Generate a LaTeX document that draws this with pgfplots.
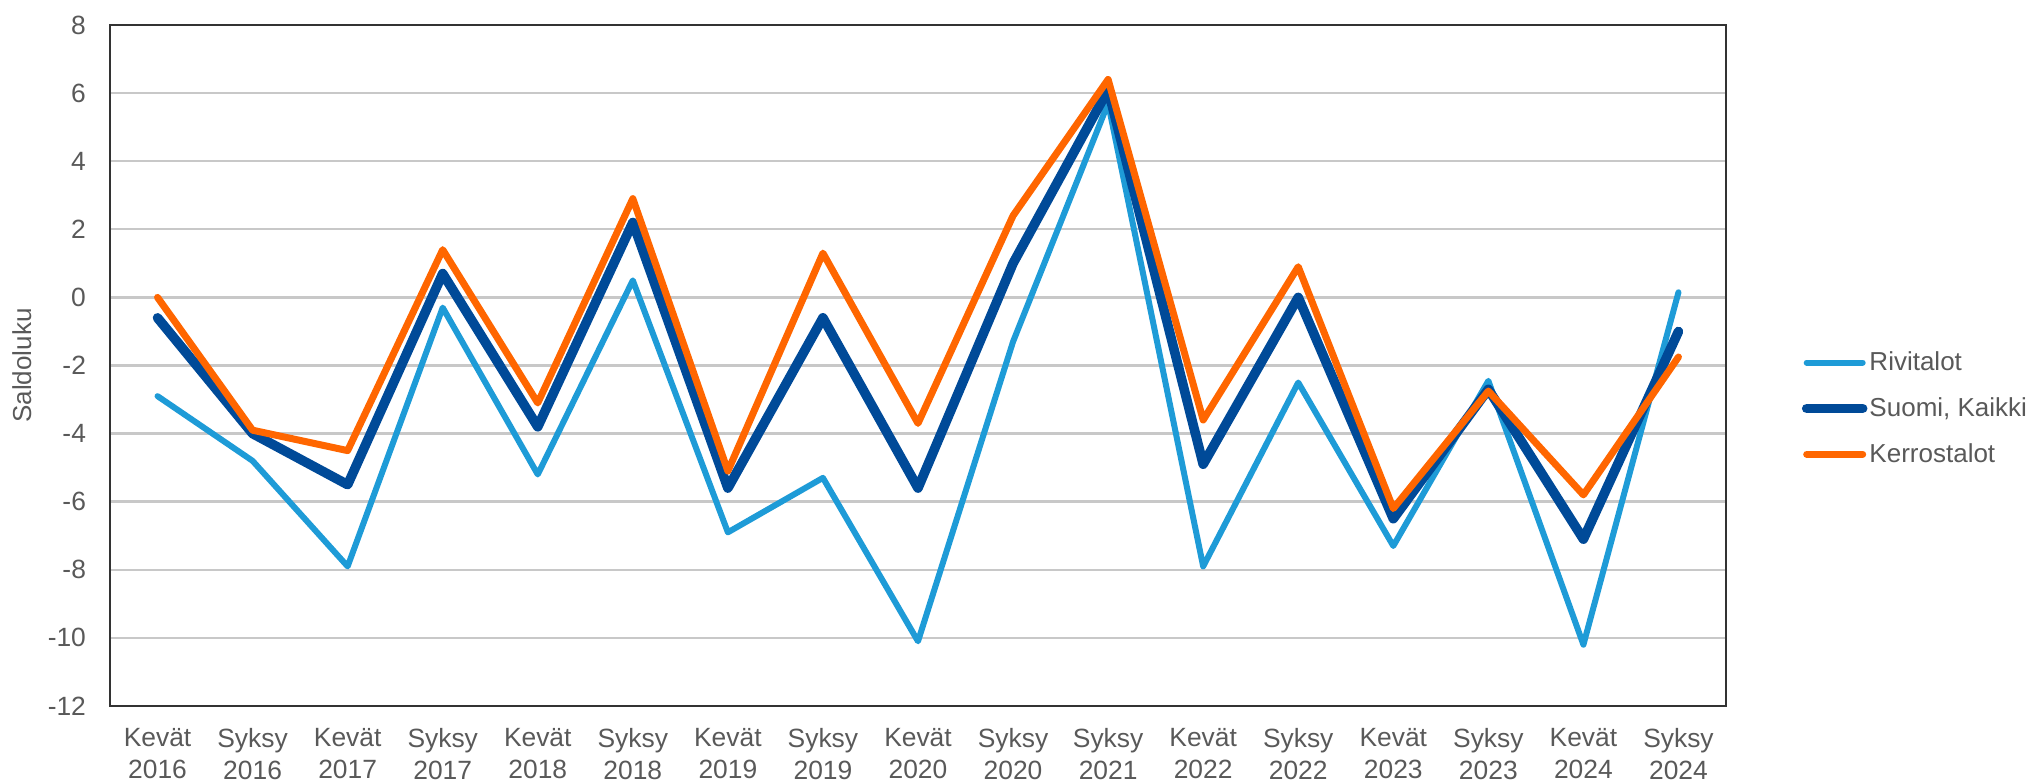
\documentclass[border=0pt]{standalone}
\usepackage{fontspec}
\setmainfont{Liberation Sans}
\usepackage{pgfplots}
\pgfplotsset{compat=1.18}
\definecolor{rivi}{HTML}{1E9BD7}
\definecolor{suomi}{HTML}{004A98}
\definecolor{kerros}{HTML}{FF6600}
\definecolor{txt}{HTML}{595959}
\definecolor{grid}{HTML}{C8C8C8}
\begin{document}
\begin{tikzpicture}
\useasboundingbox (-55pt,-38pt) rectangle (963pt,353pt);
\begin{axis}[
  at={(0pt,0pt)}, anchor=south west,
  scale only axis, width=808pt, height=340.5pt,
  xmin=-0.5, xmax=16.5, ymin=-12, ymax=8,
  ytick={-12,-10,...,8},
  yticklabels={\mbox{-12},\mbox{-10},\mbox{-8},\mbox{-6},\mbox{-4},\mbox{-2},\mbox{0},\mbox{2},\mbox{4},\mbox{6},\mbox{8}},
  xtick={0,...,16},
  xticklabels={{Kevät\\2016},{Syksy\\2016},{Kevät\\2017},{Syksy\\2017},{Kevät\\2018},{Syksy\\2018},{Kevät\\2019},{Syksy\\2019},{Kevät\\2020},{Syksy\\2020},{Syksy\\2021},{Kevät\\2022},{Syksy\\2022},{Kevät\\2023},{Syksy\\2023},{Kevät\\2024},{Syksy\\2024}},
  major tick length=0pt,
  tick style={draw=none},
  xmajorgrids=false,
  ymajorgrids=true, 
  y grid style={grid, line width=1.2pt},
  axis line style={black!80, line width=0.8pt},
  tick label style={font=\fontsize{13.2}{16}\selectfont, text=txt},
  xticklabel style={align=center, yshift=-7.5pt},
  yticklabel style={xshift=-8.5pt},
  ylabel={Saldoluku},
  ylabel style={at={(axis description cs:-0.0545,0.5)}, anchor=center, font=\fontsize{13}{14}\selectfont, text=txt},
  legend style={at={(1.043,0.437)}, anchor=west, draw=none, fill=none, font=\fontsize{13}{14}\selectfont, text=txt, row sep=8pt, legend cell align=left, nodes={inner xsep=1pt}},
  legend image code/.code={\draw[#1] (0pt,0pt) -- (28pt,0pt);},
  every axis plot/.append style={line join=round, line cap=round},
]
\addplot[rivi, line width=3pt] coordinates {
(0,-2.9) (1,-4.8) (2,-7.9) (3,-0.3) (4,-5.2) (5,0.5) (6,-6.9) (7,-5.3) (8,-10.1) (9,-1.3) (10,5.7) (11,-7.9) (12,-2.5) (13,-7.3) (14,-2.45) (15,-10.2) (16,0.15)};
\addlegendentry{Rivitalot}
\addplot[suomi, line width=4.8pt] coordinates {
(0,-0.6) (1,-4.0) (2,-5.5) (3,0.7) (4,-3.8) (5,2.2) (6,-5.6) (7,-0.6) (8,-5.6) (9,1.0) (10,6.1) (11,-4.9) (12,0.0) (13,-6.5) (14,-2.7) (15,-7.1) (16,-1.0)};
\addlegendentry{Suomi, Kaikki}
\addplot[kerros, line width=3.5pt] coordinates {
(0,0.0) (1,-3.9) (2,-4.5) (3,1.4) (4,-3.1) (5,2.9) (6,-5.1) (7,1.3) (8,-3.7) (9,2.4) (10,6.4) (11,-3.6) (12,0.9) (13,-6.2) (14,-2.75) (15,-5.8) (16,-1.75)};
\addlegendentry{Kerrostalot}
\end{axis}
\end{tikzpicture}
\end{document}
